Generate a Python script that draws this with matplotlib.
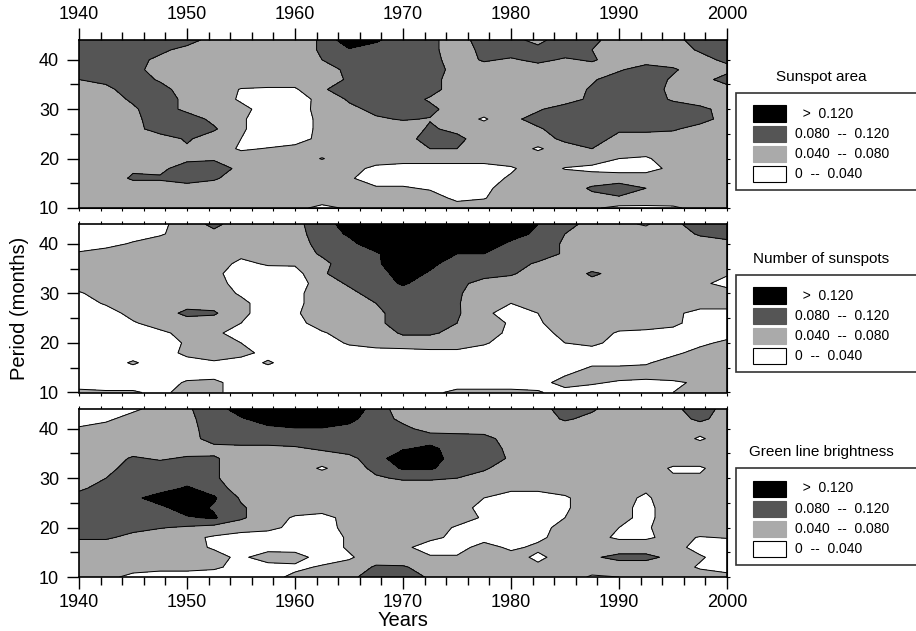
import numpy as np
import matplotlib
matplotlib.use('Agg')
import matplotlib.pyplot as plt
from matplotlib.patches import Rectangle
from matplotlib.ticker import MultipleLocator

# ----------------------------------------------------------------------------------------------------------------------
#  DATA  (power, in units of 0.01; rows run from 44 months at the top down to 10 months)
# ----------------------------------------------------------------------------------------------------------------------

years   = [1940, 1942.5, 1945, 1947.5, 1950, 1952.5, 1955, 1957.5, 1960, 1962.5, 1965, 1967.5, 1970,
           1972.5, 1975, 1977.5, 1980, 1982.5, 1985, 1987.5, 1990, 1992.5, 1995, 1997.5, 2000]
periods = [44, 42, 40, 38, 36, 34, 32, 30, 28, 26, 24, 22, 20, 18, 16, 14, 12, 10]

sunspot_area = [
    [10, 10, 10, 10, 10, 6, 6, 6, 6, 8.5, 15, 12.5, 10, 9, 6, 10, 9, 7, 10, 9, 6, 6, 6.5, 10, 10],
    [10, 10, 10, 9, 6.5, 6, 6, 6, 6, 8.5, 11.5, 10.5, 10, 9, 6, 9, 10, 9, 10, 8, 6, 6, 6, 8.5, 10],
    [10, 10, 9.5, 7, 6, 6, 6, 6, 6, 8, 10, 10, 10, 9.5, 6, 8.5, 7.5, 9, 7.5, 8.5, 6, 6, 6, 6.5, 9],
    [10, 10, 9.5, 6, 6, 6, 6, 6, 6, 7, 8.5, 10, 10, 10, 6.5, 6, 6, 6, 6, 6, 7.5, 10, 8.5, 6, 6.5],
    [8, 9, 10, 7.5, 6, 6, 6, 6, 6, 6, 8.5, 10, 10, 9.5, 6, 6, 6, 6, 6, 7.5, 10, 10, 7.5, 6, 10],
    [6, 7, 10, 9.5, 6, 6, 3.8, 3.5, 3.5, 7.5, 10, 10, 10, 9.5, 6, 6, 6, 6, 6, 8.5, 10, 10, 7, 6, 6],
    [6, 6.5, 8.5, 10, 7, 6, 3.5, 3, 2.5, 5, 8.5, 10, 10, 7.5, 6, 6, 6, 6, 6, 9, 10, 10, 7.5, 6, 6],
    [6, 6, 7.5, 10, 7, 6, 5, 2.5, 2, 5.5, 7, 9, 10, 9, 6, 6, 6, 7.5, 10, 10, 10, 10, 10, 9, 6.5],
    [6, 6, 7, 10, 10, 7, 4.5, 2, 2, 5, 6, 7.5, 8.3, 7.8, 6, 3.5, 7, 9.5, 10, 10, 10, 10, 10, 9.5, 6.5],
    [6, 6, 6.5, 10, 10, 8.5, 4.5, 2, 2, 5, 6, 6, 6, 8.5, 7, 6, 6, 7.5, 10, 10, 8.5, 9, 8.5, 6.5, 6],
    [6, 6, 6, 6, 8.5, 6, 4, 2, 2.5, 5, 6, 6, 6, 10, 9, 6, 6, 6, 9, 9.5, 7, 6, 6, 6, 6],
    [6, 6, 6, 6, 7.5, 6, 3.5, 4.2, 5, 6, 6, 6, 6, 8, 8, 6, 6, 3.5, 6, 8, 6, 6, 6, 6, 6],
    [6, 6, 6, 6, 7, 7.5, 6, 6, 6, 3.8, 6, 6, 6, 6, 6, 6, 6, 6, 6, 6, 4, 3.5, 6, 6, 6],
    [6, 6, 7.5, 7, 10, 10, 7, 6, 6, 6, 5.5, 3, 2, 2, 2, 2, 3.5, 6, 3.8, 3, 2.5, 2.5, 5, 6, 6],
    [6, 6, 8.5, 8.5, 10, 8.5, 6, 6, 6, 6, 4.5, 2, 2, 2, 2, 2.5, 4.5, 6, 6, 6, 6, 6, 6, 6, 6],
    [6, 6, 6, 6, 6, 6, 6, 6, 6, 6, 6, 4.5, 4.5, 3.5, 2, 3, 6, 6, 6, 8.5, 10, 8, 6, 6, 6],
    [6, 6, 6, 6, 6, 6, 6, 6, 6, 6, 6, 6, 6, 6, 3, 3.8, 6, 6, 6, 7, 7.5, 7, 6, 6, 6],
    [6, 6, 6, 6, 6, 6, 6, 6, 5, 3, 4.5, 6, 6, 6, 6, 6, 6, 6, 6, 4.5, 3, 3, 3.5, 5, 6],
]

sunspot_number = [
    [2, 2, 2, 3, 6, 9, 6, 6, 7, 10, 14, 15, 15, 15, 15, 15, 14, 12, 10, 6, 5, 3.5, 7, 10, 10],
    [2, 2, 2, 3.5, 6, 7, 6, 6, 6.5, 10, 12.5, 15, 15, 15, 15, 15, 14, 11, 8, 6, 6, 6, 6, 8.5, 10],
    [2, 2.5, 4.5, 6, 6, 6, 6, 6, 6, 9.5, 11, 14, 15, 15, 15, 15, 11, 10, 7.5, 6, 6, 6, 6, 6, 6.5],
    [4.5, 6, 6, 6, 6, 6, 5, 6, 6, 8.5, 10, 11.5, 14.5, 13, 12, 12, 10, 10, 7.5, 6, 6, 6, 6, 6, 6],
    [6, 6, 6, 6, 6, 6, 3, 4.5, 4.5, 7, 10, 11.5, 14, 13, 10, 10, 9.5, 7.5, 6, 6, 6, 6, 6, 6, 6],
    [5.5, 6, 6, 6, 6, 5, 2, 2, 2.5, 7.5, 10, 10, 14, 11.5, 10, 10, 8.5, 6, 6, 8.5, 7, 6, 6, 6, 4.5],
    [6, 6, 6, 6, 6, 6, 2, 2, 2, 6, 8.5, 10, 12.5, 10, 9.5, 6, 6, 6, 6, 7, 6, 6, 6, 5, 2.5],
    [3.5, 6, 6, 6, 6, 6, 3.5, 2, 3, 6, 7, 9.5, 10, 10, 8.5, 6, 6, 6, 6, 6, 6, 6, 6, 6, 6],
    [2, 4.5, 6, 6, 6.5, 6.5, 5, 2, 3, 6, 6, 8, 10, 10, 8.5, 4.5, 4, 6, 6, 6, 6, 6, 6, 6, 6],
    [2, 2, 5.5, 6, 9, 8.5, 5, 2, 3.5, 6, 6, 7, 10, 10, 8.5, 5, 2, 4, 6, 6, 6, 6, 5, 2.5, 2.5],
    [2, 2, 3.5, 6, 6, 6, 4, 2, 2.5, 6, 6, 7, 10, 10, 8, 6, 3.5, 3.5, 6, 6, 6, 6, 5, 2, 2],
    [2, 2, 2, 3, 5.5, 5, 2, 2, 2, 3.5, 6, 6, 8.5, 8.5, 7, 6, 3, 2, 5.5, 6, 3.5, 3, 2.5, 2, 2],
    [2, 2, 2, 2, 4.5, 6, 4, 2, 2, 2, 4.5, 6, 6, 6, 6, 4.5, 2, 2, 4, 5, 2.5, 2, 2, 3, 5],
    [2, 2, 2, 2, 5, 6, 5.5, 2.5, 2, 2, 2, 2, 2.5, 3, 3, 2, 2, 2, 2, 2, 2, 2, 3, 5.5, 6],
    [2, 2, 4.5, 2, 2.5, 3.5, 2, 4.5, 2, 2, 2, 2, 2, 2, 2, 2, 2, 2, 2, 3, 3, 3.5, 6, 6, 6],
    [2, 2, 2, 2, 2, 2, 2, 2, 2, 2, 2, 2, 2, 2, 2, 2, 2, 2, 3, 6, 6, 6, 6, 6, 6],
    [2, 2, 2, 2, 4.5, 5, 2, 2, 2, 2, 2, 2, 2, 2, 2, 2, 2, 2, 6, 4.5, 3.5, 3, 3.5, 4.5, 6],
    [5, 4.5, 4.5, 3, 5.5, 5, 2, 2, 2, 2, 2, 2, 2, 3, 5, 5, 5, 4.5, 2, 2, 2, 2, 4, 6, 6],
]

green_line = [
    [2, 2, 3, 6, 7.5, 10, 14, 15, 15, 15, 15, 10, 6, 6, 6, 6, 6, 6, 10, 8.5, 6, 6, 7, 10, 6.5],
    [2, 3, 6, 6, 7, 10, 11.5, 14, 14, 14, 13, 10, 7, 6, 6, 6, 6, 6, 8.5, 7, 6, 6, 6, 9, 6],
    [4.5, 6, 6, 6, 6.5, 10, 10, 11, 11.8, 11.8, 11, 10, 9, 6.5, 6, 6, 6, 6, 6, 6, 6, 6, 6, 5.5, 6],
    [6, 6, 6, 6, 6, 10, 10, 10, 10, 10, 10, 10, 10, 10, 10, 9.5, 6, 6, 6, 6, 6, 6, 6, 3.5, 6],
    [6, 6, 6, 6, 6, 6.5, 7, 7, 7.5, 8.5, 9.5, 10, 11.5, 13, 10, 10, 7, 6, 6, 6, 6, 6, 6, 6, 6],
    [6, 6, 8.5, 7.5, 8.5, 8.5, 6, 6, 6, 6, 7, 10, 15, 14, 10, 10, 7.5, 6, 6, 6, 6, 6, 6, 6, 6],
    [6, 6.5, 10, 10, 10, 8.5, 6, 6, 6, 3.5, 6, 9, 12.5, 12.5, 10, 8.5, 6, 6, 6, 6, 6, 6, 3.5, 3.5, 6],
    [6, 8, 10, 10, 10, 8.5, 6, 6, 6, 6, 6, 7.5, 8.5, 8.5, 8, 6.5, 6, 6, 6, 6, 6, 6, 4.5, 4.5, 6],
    [7, 10, 10, 10, 12.5, 10, 6, 6, 6, 6, 6, 6, 6, 6, 6, 6, 5, 5, 5.5, 6, 6, 4.5, 6, 6, 6],
    [10, 10, 11, 14, 15, 12.5, 7.5, 6, 6, 6, 6, 6, 6, 6, 6, 4, 2, 2, 3.5, 6, 5, 3.5, 6, 6, 6],
    [10, 10, 10, 11, 14, 11.5, 8.5, 6, 6, 6, 6, 6, 6, 6, 6, 2.5, 2, 2, 3.5, 6, 5, 3, 6, 6, 6],
    [10, 10, 10, 10, 11.5, 12.5, 8.5, 6, 3.5, 2.5, 5.5, 6, 6, 6, 6, 3.5, 2, 2, 4, 5, 5, 3, 6, 6, 6],
    [10, 10, 9, 8.2, 7.5, 6.5, 6, 5, 3, 2, 5.5, 6, 6, 6, 3.5, 2, 2, 2.5, 5.5, 6, 4, 3.5, 6, 6, 6],
    [8.5, 8.5, 7, 6, 5, 3.5, 2, 2, 2, 2, 4.5, 6, 6, 5, 3, 2, 2, 3, 6, 5, 3.5, 3.5, 5, 3.8, 4.2],
    [6, 6, 6, 6, 5.5, 3.5, 2, 2, 2, 2, 4.5, 6, 5, 2, 2, 6, 3, 5, 6, 6, 6, 6, 5.5, 2.5, 2],
    [6, 6, 6, 6, 6, 5.5, 3, 6.5, 6, 2, 3.5, 6, 5, 4.5, 4.5, 6, 6, 3, 6, 7.5, 9, 9, 7, 4.5, 2],
    [6, 6, 5.5, 5, 5, 4.5, 3, 2, 3, 4.5, 5.5, 8.5, 8.5, 6, 6, 6, 6, 5, 6, 6, 6, 6, 6, 3.5, 2],
    [6, 5, 3, 2.5, 2.5, 2.5, 2, 2.5, 5, 6, 7, 10, 10, 7.5, 6, 6, 6, 6, 6, 3.5, 4, 6, 6, 6, 5.5],
]

panel_titles = ['Sunspot area', 'Number of sunspots', 'Green line brightness']
levels       = [0.0, 0.04, 0.08, 0.12, 1.0]
fill_colors  = ['#ffffff', '#aaaaaa', '#555555', '#000000']
legend_text  = ['  >  0.120', '0.080  --  0.120', '0.040  --  0.080', '0  --  0.040']

# ----------------------------------------------------------------------------------------------------------------------
#  PLOT
# ----------------------------------------------------------------------------------------------------------------------

plt.rcParams['font.family'] = ['Liberation Sans', 'DejaVu Sans']

W, H = 916, 631
fig  = plt.figure(figsize=(W / 100, H / 100), dpi=100)

panel_px  = [(40, 208), (224, 392.5), (409, 577)]    # top / bottom of each panel in pixels
legend_px = [93, 275, 468]                            # top of each legend box in pixels

X, Y = np.meshgrid(years, periods)

for k, grid in enumerate([sunspot_area, sunspot_number, green_line]):
    top, bot = panel_px[k]
    ax = fig.add_axes([79 / W, 1 - bot / H, 648 / W, (bot - top) / H])
    Z  = np.array(grid) / 100.0

    ax.contourf(X, Y, Z, levels=levels, colors=fill_colors)
    ax.contour(X, Y, Z, levels=levels[1:-1], colors='k', linewidths=0.7)

    ax.set_xlim(1940, 2000)
    ax.set_ylim(10, 44)
    for s in ax.spines.values():
        s.set_linewidth(1.2)

    ax.xaxis.set_major_locator(MultipleLocator(10))
    ax.xaxis.set_minor_locator(MultipleLocator(2))
    ax.yaxis.set_major_locator(MultipleLocator(10))
    ax.yaxis.set_minor_locator(MultipleLocator(5))

    ax.tick_params(axis='y', which='major', direction='out', length=8.9, width=1.0, labelsize=13, pad=5.5)
    ax.tick_params(axis='y', which='minor', direction='out', length=6.5, width=1.0)
    right = ax.secondary_yaxis('right')
    right.yaxis.set_major_locator(MultipleLocator(5))
    right.tick_params(direction='out', length=2, width=0.8, labelright=False)

    if k == 0:
        ax.xaxis.set_ticks_position('top')
        ax.tick_params(axis='x', which='major', direction='out', length=8.4, width=1.0, labelsize=13, pad=4)
        ax.tick_params(axis='x', which='minor', direction='out', length=5.5, width=1.0)
        other = ax.secondary_xaxis('bottom')
    elif k == 2:
        ax.xaxis.set_ticks_position('bottom')
        ax.tick_params(axis='x', which='major', direction='out', length=8.4, width=1.0, labelsize=13, pad=4)
        ax.tick_params(axis='x', which='minor', direction='out', length=5.5, width=1.0)
        other = ax.secondary_xaxis('top')
    else:
        ax.tick_params(axis='x', which='both', top=True, bottom=True, direction='out',
                       length=2, width=0.8, labelbottom=False)
        other = None
    if other is not None:
        other.xaxis.set_major_locator(MultipleLocator(2))
        other.tick_params(direction='out', length=2, width=0.8, labelbottom=False, labeltop=False)

    # legend box on the right
    bt = legend_px[k]
    fig.text(821 / W, 1 - (bt - 16) / H, panel_titles[k], fontsize=11, ha='center', va='center')
    fig.add_artist(Rectangle((736 / W, 1 - (bt + 97) / H), 200 / W, 97 / H, transform=fig.transFigure,
                             facecolor='white', edgecolor='#333333', linewidth=1.2))
    for i in range(4):
        color = fill_colors[3 - i]
        y0    = bt + 12.5 + 20.2 * i
        fig.add_artist(Rectangle((753 / W, 1 - (y0 + 16) / H), 33 / W, 16 / H, transform=fig.transFigure,
                                 facecolor=color, edgecolor='k' if i == 3 else color, linewidth=0.8))
        fig.text(795 / W, 1 - (y0 + 8) / H, legend_text[i], fontsize=10, ha='left', va='center')

fig.text(403 / W, 1 - 620 / H, 'Years', fontsize=14.5, ha='center', va='center')
fig.text(20 / W, 1 - 308 / H, 'Period (months)', fontsize=14.5, ha='center', va='center', rotation=90)

fig.savefig('out.png', dpi=100)
